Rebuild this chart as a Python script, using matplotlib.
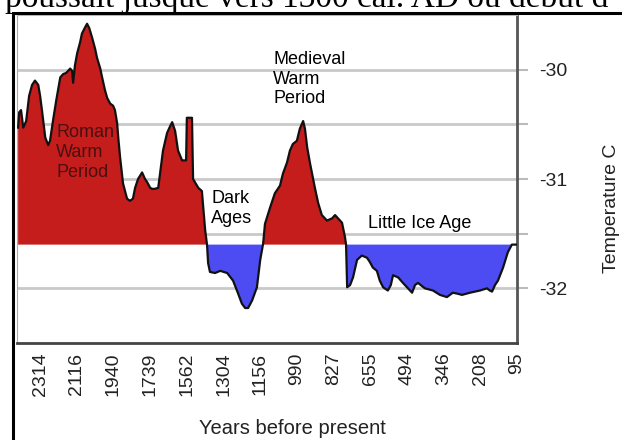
import matplotlib
matplotlib.use('Agg')
import matplotlib.pyplot as plt
import numpy as np
from matplotlib.patches import Rectangle

# category labels (years before present), equally spaced on the axis
year_labels = ['2314', '2116', '1940', '1739', '1562', '1304', '1156',
               '990', '827', '655', '494', '346', '208', '95']

# position along the category axis (0 = first label) and temperature (C)
pos = [-0.60, -0.57, -0.52, -0.46, -0.38, -0.30, -0.22, -0.14, -0.05, 0.00,
       0.05, 0.14, 0.22, 0.27, 0.35, 0.44, 0.55, 0.63, 0.71, 0.82,
       0.87, 0.90, 0.95, 1.01, 1.09, 1.14, 1.23, 1.28, 1.34, 1.42,
       1.50, 1.55, 1.64, 1.69, 1.77, 1.83, 1.91, 1.99, 2.04, 2.10,
       2.13, 2.18, 2.26, 2.37, 2.45, 2.53, 2.59, 2.67, 2.78, 2.86,
       2.92, 3.00, 3.05, 3.13, 3.22, 3.27, 3.35, 3.46, 3.54, 3.60,
       3.68, 3.76, 3.87, 3.98, 4.00, 4.14, 4.17, 4.31, 4.41, 4.50,
       4.55, 4.58, 4.63, 4.77, 4.91, 5.10, 5.26, 5.40, 5.50, 5.59,
       5.67, 5.78, 5.91, 6.00, 6.08, 6.13, 6.27, 6.40, 6.54, 6.62,
       6.73, 6.81, 6.89, 7.00, 7.08, 7.17, 7.22, 7.28, 7.36, 7.49,
       7.58, 7.68, 7.82, 7.96, 8.04, 8.12, 8.23, 8.31, 8.34, 8.37,
       8.45, 8.53, 8.64, 8.77, 8.91, 8.99, 9.07, 9.18, 9.26, 9.35,
       9.48, 9.56, 9.62, 9.76, 9.89, 10.03, 10.14, 10.22, 10.30, 10.49,
       10.71, 10.90, 11.09, 11.25, 11.39, 11.50, 11.72, 11.99, 12.18, 12.26,
       12.32, 12.40, 12.48, 12.62, 12.75, 12.86, 13.00]

temp = [-30.53, -30.39, -30.37, -30.53, -30.47, -30.24, -30.14, -30.10, -30.14, -30.24,
        -30.37, -30.62, -30.69, -30.65, -30.47, -30.28, -30.07, -30.04, -30.03, -29.99,
        -30.01, -30.12, -29.96, -29.85, -29.75, -29.67, -29.61, -29.58, -29.62, -29.71,
        -29.81, -29.89, -29.99, -30.07, -30.19, -30.26, -30.31, -30.33, -30.37, -30.49,
        -30.62, -30.80, -31.04, -31.18, -31.20, -31.18, -31.08, -31.00, -30.94, -31.00,
        -31.03, -31.08, -31.09, -31.09, -31.08, -30.95, -30.74, -30.58, -30.52, -30.48,
        -30.56, -30.74, -30.83, -30.83, -30.44, -30.44, -31.00, -31.08, -31.11, -31.47,
        -31.60, -31.77, -31.85, -31.86, -31.84, -31.86, -31.93, -32.05, -32.14, -32.18,
        -32.18, -32.11, -31.99, -31.74, -31.59, -31.41, -31.26, -31.13, -31.06, -30.95,
        -30.85, -30.74, -30.68, -30.65, -30.54, -30.47, -30.54, -30.71, -30.86, -31.08,
        -31.22, -31.33, -31.38, -31.36, -31.33, -31.36, -31.40, -31.53, -31.60, -31.99,
        -31.97, -31.90, -31.74, -31.70, -31.72, -31.76, -31.81, -31.84, -31.93, -31.99,
        -32.02, -31.97, -31.88, -31.90, -31.95, -32.00, -32.04, -31.97, -31.95, -32.00,
        -32.02, -32.06, -32.08, -32.04, -32.05, -32.06, -32.04, -32.02, -32.00, -32.02,
        -32.03, -31.97, -31.93, -31.81, -31.67, -31.60, -31.60]

baseline = -31.6
y_ticks = [-32, -31.5, -31, -30.5, -30]
y_labels = ['-32', '', '-31', '', '-30']

annotations = [
    ('Roman\nWarm\nPeriod', 0.44, -30.50, '#4a0f0f'),
    ('Dark\nAges', 4.66, -31.10, 'black'),
    ('Medieval\nWarm\nPeriod', 6.35, -29.83, 'black'),
    ('Little Ice Age', 8.94, -31.33, 'black'),
]

plt.rcParams['font.family'] = ['Liberation Sans', 'DejaVu Sans']

fig = plt.figure(figsize=(6.22, 4.40), dpi=100)
ax = fig.add_axes([17 / 622, 1 - 343 / 440, 500 / 622, 328 / 440])

x = np.array(pos)
y = np.array(temp)
ax.fill_between(x, y, baseline, where=y >= baseline, interpolate=True,
                color='#c41d1c', linewidth=0)
ax.fill_between(x, y, baseline, where=y <= baseline, interpolate=True,
                color='#4c4cf2', linewidth=0)
ax.plot(x, y, color='#111111', lw=1.6, zorder=3)

ax.set_xlim(-0.63, 13.0)
ax.set_ylim(-32.5, -29.5)

for t in y_ticks:
    ax.axhline(t, color='#c9c9c9', lw=2, zorder=0)

ax.yaxis.tick_right()
ax.set_yticks(y_ticks)
ax.set_yticklabels(y_labels, fontsize=14, color='#222222')
ax.tick_params(axis='y', direction='out', length=8, width=1.5,
               color='#bbbbbb', pad=8)

ax.set_xticks(range(len(year_labels)))
ax.set_xticklabels(year_labels, rotation=90, fontsize=14, color='#222222')
ax.tick_params(axis='x', length=0, pad=7)

ax.spines['left'].set_color('#aaaaaa')
ax.spines['top'].set_color('#bbbbbb')
ax.spines['right'].set_color('#555555')
ax.spines['right'].set_linewidth(2)
ax.spines['bottom'].set_color('#444444')
ax.spines['bottom'].set_linewidth(2)

for label, lx, ly, col in annotations:
    ax.text(lx, ly, label, fontsize=13, color=col, va='top', ha='left',
            linespacing=1.2, zorder=4)

fig.text(292 / 622, 1 - 428 / 440, 'Years before present', fontsize=14.5,
         ha='center', va='center', color='#222222')
fig.text(612 / 622, 1 - 208 / 440, 'Temperature C', fontsize=14,
         rotation=90, ha='center', va='center', color='#222222')

# black frame of the document figure
fig.patches.append(Rectangle((13 / 622, -0.05), 1.0, 1 - 13 / 440 + 0.05,
                             transform=fig.transFigure, fill=False,
                             edgecolor='black', lw=2.2))

# cut-off line of the surrounding document text
fig.text(5 / 622, 1 - 6.5 / 440, 'poussait jusque vers 1300 cal. AD ou début d',
         fontsize=24, family='Liberation Serif', va='baseline', ha='left')

fig.savefig('out.png', dpi=100)
